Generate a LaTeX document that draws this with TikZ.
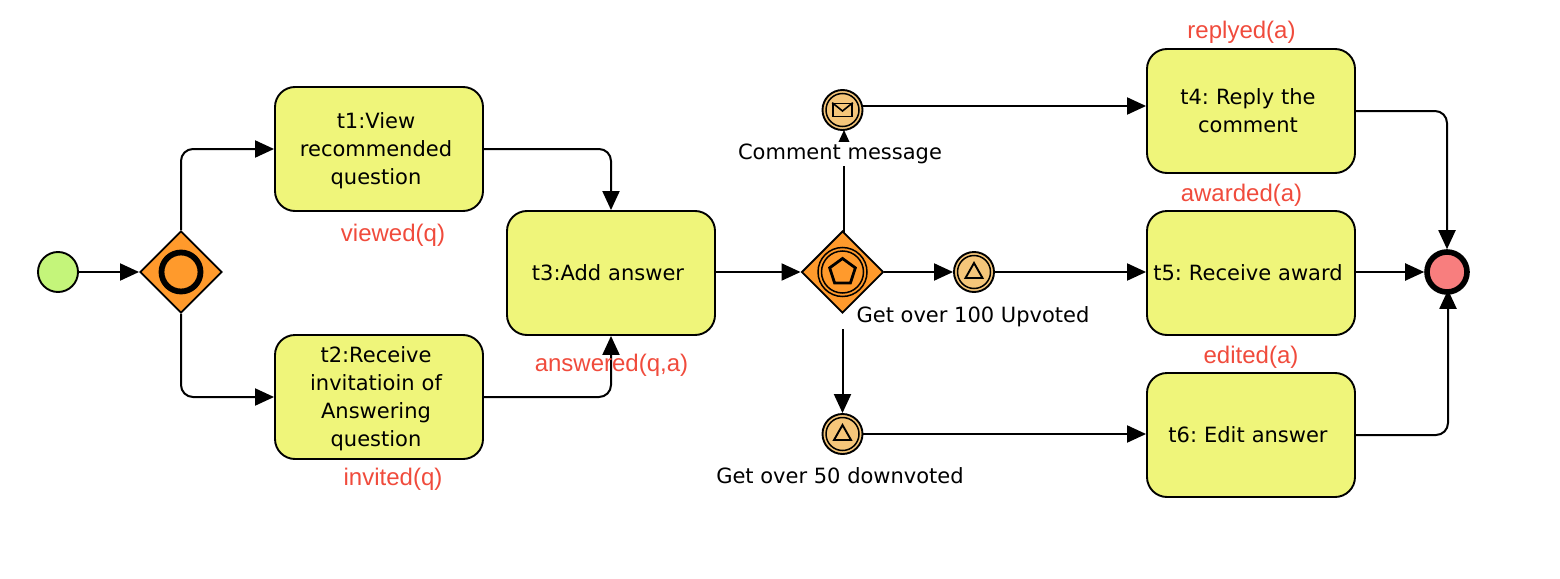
\documentclass[tikz,border=0pt]{standalone}
\usepackage{fontspec}
\setmainfont{DejaVu Sans}
\newfontfamily\redfont{Liberation Sans}
\usetikzlibrary{arrows.meta,shapes.geometric,calc}
\pgfdeclarelayer{edges}
\pgfdeclarelayer{labels}
\pgfsetlayers{edges,labels,main}
\frenchspacing
\definecolor{taskfill}{HTML}{EFF57A}
\definecolor{gatefill}{HTML}{FF9A2C}
\definecolor{startfill}{HTML}{C4F57A}
\definecolor{endfill}{HTML}{F87E7E}
\definecolor{eventfill}{HTML}{F5C67A}
\definecolor{redtext}{HTML}{F04B3C}
\tikzset{
  x=1pt,y=-1pt,
  taskbox/.style={draw=black,line width=1.9pt,fill=taskfill,rounded corners=20pt,minimum width=208pt,minimum height=124pt,inner sep=0pt,text width=208pt,
    font=\fontsize{21}{28}\selectfont,
    execute at begin node={\frenchspacing\leftskip=0pt plus 1fil\rightskip=6pt plus 1fil\parfillskip=0pt\relax}},
  gate/.style={draw=black,line width=1.9pt,fill=gatefill,diamond,aspect=1,minimum size=82pt,inner sep=0pt},
  evt/.style={circle,draw=black,line width=1.9pt,fill=eventfill,minimum size=40pt,inner sep=0pt},
  evtinner/.style={circle,draw=black,line width=1.5pt,minimum size=33pt,inner sep=0pt},
  conn/.style={draw=black,line width=2pt,rounded corners=12pt,-{Triangle[length=19pt,width=17pt]}},
  redlabel/.style={text=redtext,font=\redfont\fontsize{24}{28}\selectfont,inner sep=0pt},
  blacklabel/.style={fill=white,font=\fontsize{21}{26}\selectfont,inner xsep=2pt,inner ysep=2pt,execute at begin node={\frenchspacing}},
  tri/.style={draw=black,line width=1.9pt,line join=miter},
}
\begin{document}
\begin{tikzpicture}
\useasboundingbox (0,0) rectangle (1560,578);
% flow objects
\node[circle,draw=black,line width=1.9pt,fill=startfill,minimum size=40pt,inner sep=0pt] (start) at (58,272) {};
\node[gate] (gw1) at (181,272) {};
\node[circle,draw=black,line width=5.8pt,minimum size=39pt,inner sep=0pt] (gw1ring) at (gw1.center) {};
\node[taskbox] (t1) at (379,149) {\rule{0pt}{19.3pt}t1:View\\recommended\\question};
\node[taskbox] (t2) at (379,397) {\rule{0pt}{19.3pt}t2:Receive\\invitatioin of\\Answering\\question};
\node[taskbox] (t3) at (611,273) {t3:Add answer};
\node[gate] (gw2) at (842.5,272) {};
\node[circle,draw=black,line width=1.5pt,minimum size=49pt,inner sep=0pt] (gw2a) at (gw2.center) {};
\node[circle,draw=black,line width=1.5pt,minimum size=42pt,inner sep=0pt] (gw2b) at (gw2.center) {};
\node[regular polygon,regular polygon sides=5,draw=black,line width=2.8pt,minimum size=27pt,inner sep=0pt] (gw2p) at (842.5,272) {};
\node[evt] (msg) at (842.5,110) {};
\node[evtinner] (msgi) at (msg.center) {};
\node[draw=black,line width=1.6pt,minimum width=19pt,minimum height=13pt,inner sep=0pt] (env) at (msg.center) {};
\draw[line width=1.6pt] (env.north west) -- ($(env.center)+(0,1)$) -- (env.north east);
\node[evt] (up) at (974,272) {};
\node[evtinner] (upi) at (up.center) {};
\draw[tri] ($(up.center)+(0,-9)$) -- ($(up.center)+(8.5,6)$) -- ($(up.center)+(-8.5,6)$) -- cycle;
\node[evt] (down) at (842.5,434) {};
\node[evtinner] (downi) at (down.center) {};
\draw[tri] ($(down.center)+(0,-9)$) -- ($(down.center)+(8.5,6)$) -- ($(down.center)+(-8.5,6)$) -- cycle;
\node[taskbox] (t4) at (1251,111) {t4: Reply the\\comment};
\node[taskbox] (t5) at (1251,273) {t5: Receive award};
\node[taskbox] (t6) at (1251,435) {t6: Edit answer};
\node[circle,draw=black,line width=5.6pt,fill=endfill,minimum size=40pt,inner sep=0pt] (endev) at (1447,272) {};
\coordinate (msgout) at (860,106);
\coordinate (gw2top) at (844,240);
\coordinate (msgin) at (844,130);
% connectors
\begin{pgfonlayer}{edges}
\draw[conn] (start) -- (gw1);
\draw[conn] (gw1.north) |- (t1.west);
\draw[conn] (gw1.south) |- (t2.west);
\draw[conn] (t1.east) -| (t3.north);
\draw[conn] (t2.east) -| (t3.south);
\draw[conn] (t3.east |- gw2.west) -- (gw2.west);
\draw[conn] (gw2top) -- (msgin);
\draw[conn] (gw2.east) -- (up.west);
\draw[conn] (gw2.south) -- (down.north);
\draw[conn] (msgout) -- (t4.west |- msgout);
\draw[conn] (up.east) -- (t5.west |- up.east);
\draw[conn] (down.east) -- (t6.west |- down.east);
\draw[conn] (t4.east) -| (endev.north);
\draw[conn] (t5.east |- endev.west) -- (endev.west);
\draw[conn] (t6.east) -| ([xshift=1pt,yshift=5pt]endev.south);
\end{pgfonlayer}
% labels
\begin{pgfonlayer}{labels}
\node[blacklabel] (lmsg) at (840,154) {Comment message};
\node[blacklabel] (lup) at (963,317) {\hspace*{20pt}Get over 100 Upvoted};
\node[blacklabel] (ldown) at (840,476) {Get over 50 downvoted};
\end{pgfonlayer}
\node[redlabel] (lviewed) at (393,235) {viewed(q)};
\node[redlabel] (linvited) at (393,479) {invited(q)};
\node[redlabel] (lanswered) at (611.5,365) {answered(q,a)};
\node[redlabel] (lreplied) at (1241.5,32) {replyed(a)};
\node[redlabel] (lawarded) at (1241.5,195) {awarded(a)};
\node[redlabel] (ledited) at (1251,357) {edited(a)};
\end{tikzpicture}
\end{document}
